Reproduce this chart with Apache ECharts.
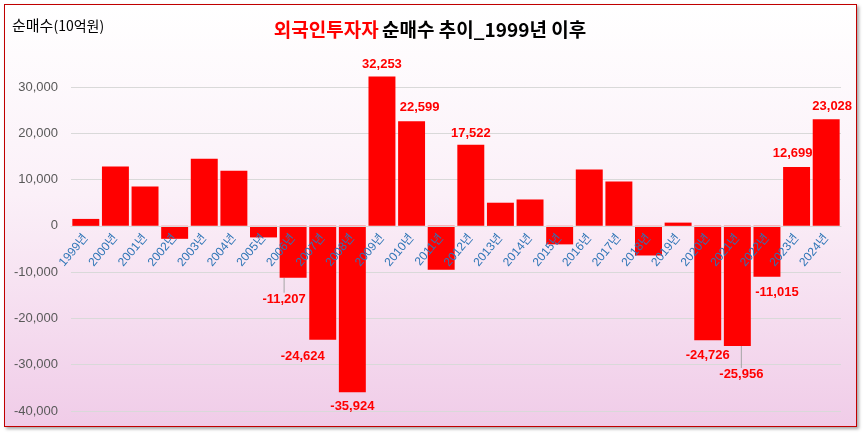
<!DOCTYPE html>
<html>
<head>
<meta charset="utf-8">
<script src="https://cdn.jsdelivr.net/npm/echarts@6/dist/echarts.min.js"></script>
<style>
html,body{margin:0;padding:0;width:863px;height:435px;overflow:hidden;background:#ffffff;}
#bg{position:absolute;left:4px;top:4px;width:851px;height:421px;border:1px solid #c00000;
background:linear-gradient(to bottom,#ffffff 0%,#fbf0f8 45%,#f0cce8 100%);box-shadow:2px 2px 3px rgba(0,0,0,0.35);}
#chart{position:absolute;left:0;top:0;width:863px;height:435px;}
</style>
</head>
<body>
<div id="bg"></div>
<div id="chart"></div>
<script>
const years = ['1999년','2000년','2001년','2002년','2003년','2004년','2005년','2006년','2007년','2008년','2009년','2010년','2011년','2012년','2013년','2014년','2015년','2016년','2017년','2018년','2019년','2020년','2021년','2022년','2023년','2024년'];
const netBuy = [1500, 12800, 8500, -2800, 14500, 11900, -2500, -11207, -24624, -35924, 32253, 22599, -9500, 17522, 5000, 5700, -4000, 12200, 9600, -6400, 700, -24726, -25956, -11015, 12699, 23028];
const labeledYears = ['2006년','2007년','2008년','2009년','2010년','2012년','2020년','2021년','2022년','2023년','2024년'];
const leaderYears = ['2006년','2021년'];
const yTicks = [-40000, -30000, -20000, -10000, 0, 10000, 20000, 30000];

// label nudges (style, not data)
const labelShift = {
  '2006년':[-9,10], '2007년':[-20,5], '2008년':[0,3], '2009년':[0,-1], '2010년':[8,-2],
  '2012년':[0,0], '2020년':[0,4], '2021년':[4,17], '2022년':[10,4], '2023년':[-4,-2], '2024년':[6,-1]
};

const fmt = v => v.toLocaleString('en-US');

const barData = netBuy.map((v, i) => {
  const y = years[i];
  const show = labeledYears.indexOf(y) >= 0;
  return {
    value: v,
    label: {
      show: show,
      position: v >= 0 ? 'top' : 'bottom',
      formatter: p => fmt(p.value)
    },
    labelLine: {
      show: leaderYears.indexOf(y) >= 0,
      lineStyle: { color: '#a6a6a6', width: 1 }
    }
  };
});

const GRID_TOP = 87, GRID_BOTTOM_Y = 411;
// pixel distance from grid bottom up to the zero line
const zeroOffset = (GRID_BOTTOM_Y - GRID_TOP) * (0 - yTicks[0]) / (yTicks[yTicks.length - 1] - yTicks[0]);

const chart = echarts.init(document.getElementById('chart'), null, { renderer: 'canvas' });
chart.setOption({
  backgroundColor: 'transparent',
  animation: false,
  graphic: [
    {
      type: 'text', left: 12, top: 18,
      style: {
        text: '{a|순매수}{b|(10억원)}',
        rich: {
          a: { fontSize: 15, fontFamily: 'Noto Sans CJK KR', fill: '#000000' },
          b: { fontSize: 14, fontFamily: 'Noto Sans CJK KR', fill: '#000000' }
        }
      }
    },
    {
      type: 'text', x: 430, y: 30,
      style: {
        text: '{a|외국인투자자} {b|순매수 추이_1999년 이후}',
        align: 'center', verticalAlign: 'middle',
        rich: {
          a: { fontSize: 19, fontWeight: 'bold', fontFamily: 'Noto Sans CJK KR', fill: '#ff0000' },
          b: { fontSize: 19, fontWeight: 'bold', fontFamily: 'Noto Sans CJK KR', fill: '#000000' }
        }
      }
    }
  ],
  grid: { left: 71, right: 22, top: GRID_TOP, bottom: 435 - GRID_BOTTOM_Y, containLabel: false, outerBoundsMode: 'none' },
  xAxis: {
    type: 'category',
    data: years,
    z: 5,
    offset: -zeroOffset,
    axisLine: { show: true, onZero: false, lineStyle: { color: '#d9d9d9' } },
    axisTick: { show: false },
    axisLabel: {
      rotate: 50, interval: 0, margin: 10,
      fontSize: 12, color: '#2e75b6', fontFamily: 'Liberation Sans Narrow, Liberation Sans, Noto Sans CJK KR'
    }
  },
  yAxis: {
    type: 'value',
    min: yTicks[0], max: yTicks[yTicks.length - 1], interval: 10000,
    axisLine: { show: false },
    axisTick: { show: false },
    axisLabel: {
      margin: 13, fontSize: 13, color: '#595959', fontFamily: 'Liberation Sans',
      formatter: v => fmt(v)
    },
    splitLine: { lineStyle: { color: '#d9d9d9', width: 1 } }
  },
  series: [{
    type: 'bar',
    data: barData,
    clip: false,
    barCategoryGap: '9%',
    itemStyle: { color: '#ff0000' },
    label: {
      color: '#ff0000', fontSize: 13, fontWeight: 'bold', fontFamily: 'Liberation Sans', distance: 5
    },
    labelLayout: function (params) {
      const s = labelShift[years[params.dataIndex]];
      if (!s) return {};
      return { dx: s[0], dy: s[1] };
    }
  }]
});
</script>
</body>
</html>
